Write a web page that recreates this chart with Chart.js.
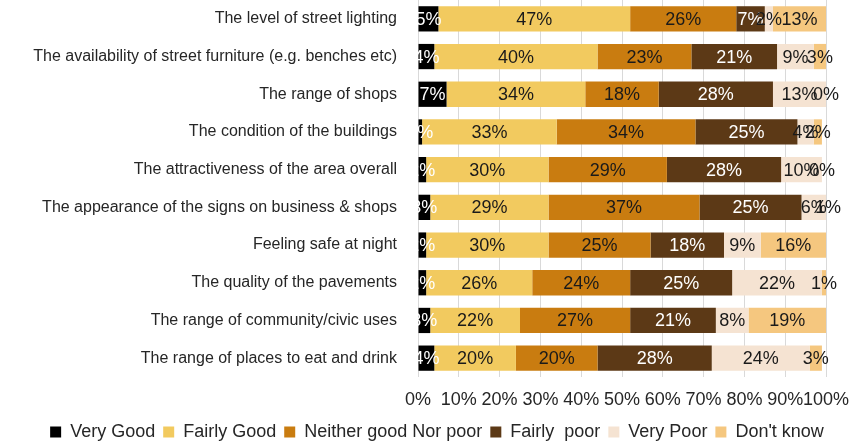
<!DOCTYPE html>
<html>
<head>
<meta charset="utf-8">
<script src="https://cdn.jsdelivr.net/npm/chart.js@4/dist/chart.umd.min.js"></script>
<style>
  html, body { margin: 0; padding: 0; background: #fff; }
  #wrap { width: 850px; height: 443px; }
</style>
</head>
<body>
<div id="wrap"><canvas id="chart"></canvas></div>
<script>
const categories = [
  'The level of street lighting',
  'The availability of street furniture (e.g. benches etc)',
  'The range of shops',
  'The condition of the buildings',
  'The attractiveness of the area overall',
  'The appearance of the signs on business & shops',
  'Feeling safe at night',
  'The quality of the pavements',
  'The range of community/civic uses',
  'The range of places to eat and drink',
]

const veryGood    = [5, 4, 7, 1, 2, 3, 2, 2, 3, 4]
const fairlyGood  = [47, 40, 34, 33, 30, 29, 30, 26, 22, 20]
const neither     = [26, 23, 18, 34, 29, 37, 25, 24, 27, 20]
const fairlyPoor  = [7, 21, 28, 25, 28, 25, 18, 25, 21, 28]
const veryPoor    = [2, 9, 13, 4, 10, 6, 9, 22, 8, 24]
const dontKnow    = [13, 3, 0, 2, 0, 1, 16, 1, 19, 3]

const seriesNames = ['Very Good', 'Fairly Good', 'Neither good Nor poor', 'Fairly  poor', 'Very Poor', "Don't know"]
const xTicks = [0, 10, 20, 30, 40, 50, 60, 70, 80, 90, 100]

const colors = ['#000000', '#f2ca5f', '#c97c10', '#5c3916', '#f5e3d2', '#f5c77f']
const labelColors = ['#ffffff', '#1a1a1a', '#1a1a1a', '#ffffff', '#1a1a1a', '#1a1a1a']
const font = "Arial, 'Liberation Sans', sans-serif"
const textColor = '#262626'

const seriesData = [veryGood, fairlyGood, neither, fairlyPoor, veryPoor, dontKnow]

// percentage text centred on each segment, not clipped to the bar
const segmentLabels = {
  id: 'segmentLabels',
  afterDatasetsDraw(chart) {
    const ctx = chart.ctx
    ctx.save()
    ctx.font = '18px ' + font
    ctx.textAlign = 'center'
    ctx.textBaseline = 'middle'
    chart.data.datasets.forEach((ds, di) => {
      const meta = chart.getDatasetMeta(di)
      meta.data.forEach((bar, i) => {
        const cx = (bar.x + bar.base) / 2
        ctx.fillStyle = labelColors[di]
        ctx.fillText(ds.data[i] + '%', cx, bar.y + 1)
      })
    })
    ctx.restore()
  }
}

// centre the legend under the whole picture rather than the padded box
const legendShift = {
  id: 'legendShift',
  afterLayout(chart) {
    const lg = chart.legend
    lg.left += 24
    lg.right += 24
  }
}

const noOverhang = s => {
  s.paddingLeft = 0
  s.paddingRight = 0
  s.paddingTop = 0
  s.paddingBottom = 0
}

new Chart(document.getElementById('chart'), {
  type: 'bar',
  data: {
    labels: categories,
    datasets: seriesData.map((d, i) => ({
      label: seriesNames[i],
      data: d,
      backgroundColor: colors[i],
      borderWidth: 0,
      barPercentage: 0.67,
      categoryPercentage: 1,
    }))
  },
  options: {
    indexAxis: 'y',
    responsive: true,
    maintainAspectRatio: false,
    animation: false,
    layout: { padding: { top: 0, right: 24, bottom: -8, left: 0 } },
    plugins: {
      legend: {
        position: 'bottom',
        labels: {
          boxWidth: 11,
          boxHeight: 11,
          padding: 8,
          color: textColor,
          font: { family: font, size: 18 },
        }
      },
      tooltip: { enabled: false },
    },
    scales: {
      x: {
        stacked: true,
        min: 0,
        max: 100,
        afterBuildTicks: s => { s.ticks = xTicks.map(v => ({ value: v })) },
        grid: { color: '#d9d9d9', drawTicks: false },
        border: { display: false },
        ticks: {
          padding: 12,
          color: textColor,
          maxRotation: 0,
          autoSkip: false,
          font: { family: font, size: 18 },
          callback: v => v + '%',
        },
        afterFit: s => { s.height = 38; noOverhang(s) },
      },
      y: {
        stacked: true,
        grid: { display: false },
        border: { display: false },
        ticks: {
          padding: 13,
          color: textColor,
          autoSkip: false,
          font: { family: font, size: 16 },
        },
        afterFit: s => { s.width = 418; noOverhang(s) },
      }
    }
  },
  plugins: [segmentLabels, legendShift]
})
</script>
</body>
</html>
